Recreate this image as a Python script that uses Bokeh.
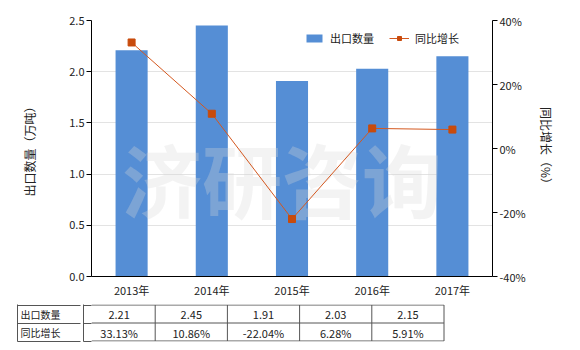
from bokeh.plotting import figure
from bokeh.models import (Range1d, LinearAxis, FixedTicker, PrintfTickFormatter, Legend,
                          LegendItem)
from bokeh.layouts import column
from bokeh.core.properties import value
from bokeh.embed import file_html
from bokeh.resources import INLINE

years = ["2013年", "2014年", "2015年", "2016年", "2017年"]
export_qty = [2.21, 2.45, 1.91, 2.03, 2.15]
yoy_growth = [33.13, 10.86, -22.04, 6.28, 5.91]
qty_labels = ["2.21", "2.45", "1.91", "2.03", "2.15"]
growth_labels = ["33.13%", "10.86%", "-22.04%", "6.28%", "5.91%"]
row_names = ["出口数量", "同比增长"]
left_ticks = [0.0, 0.5, 1.0, 1.5, 2.0, 2.5]
right_ticks = [-40, -20, 0, 20, 40]

FONT = "Noto Sans CJK SC"
BAR = "#558ed5"
LINE = "#d4581f"
MARK = "#c84b0c"
TXT = "#222222"
GRIDC = "#555555"

FL, FR, FT = 91, 492, 20      # chart frame edges (canvas px)
TOP_H = 300                   # chart figure height
FB = 278

p = figure(width=580, height=TOP_H, x_range=years, y_range=Range1d(0, 2.5),
           output_backend="svg", toolbar_location=None,
           min_border_left=FL, min_border_right=580 - FR, min_border_top=FT,
           min_border_bottom=TOP_H - FB)
p.outline_line_color = None
p.extra_y_ranges = {"pct": Range1d(-40, 40)}

bars = p.vbar(x=years, top=export_qty, width=0.4, color=BAR, line_color=None)

# watermark
p.text(x=[2.375], y=[0.97], text=["济研咨询"], text_font=value(FONT), text_font_style="bold",
       text_font_size="80px", text_color="#d8d8d8", text_alpha=0.3,
       text_align="center", text_baseline="middle")

ln = p.line(x=years, y=yoy_growth, y_range_name="pct", line_color=LINE, line_width=1)
sc = p.scatter(x=years, y=yoy_growth, y_range_name="pct", marker="square", size=7,
               fill_color=MARK, line_color=MARK)

p.xgrid.grid_line_color = None
p.ygrid.grid_line_color = "#e3e3e3"
p.ygrid.ticker = FixedTicker(ticks=left_ticks)

xa = p.xaxis[0]
xa.major_tick_line_color = None
xa.major_tick_out = 0
xa.major_tick_in = 0
xa.minor_tick_line_color = None
xa.axis_line_color = "black"
xa.major_label_text_font = FONT
xa.major_label_text_font_size = "11px"
xa.major_label_text_color = TXT
xa.major_label_standoff = 5

ya = p.yaxis[0]
ya.ticker = FixedTicker(ticks=left_ticks)
ya.formatter = PrintfTickFormatter(format="%.1f")
ya.major_tick_out = 5
ya.major_tick_in = 0
ya.minor_tick_line_color = None
ya.axis_line_color = "black"
ya.major_label_text_font = FONT
ya.major_label_text_font_size = "11px"
ya.major_label_text_color = TXT
ya.major_label_standoff = 2
ya.axis_label = "出口数量（万吨）"
ya.axis_label_text_font = FONT
ya.axis_label_text_font_size = "12px"
ya.axis_label_text_font_style = "normal"
ya.axis_label_text_color = TXT
ya.axis_label_standoff = 28

ra = LinearAxis(y_range_name="pct", ticker=FixedTicker(ticks=right_ticks),
                formatter=PrintfTickFormatter(format="%d%%"))
ra.major_tick_out = 5
ra.major_tick_in = 0
ra.minor_tick_line_color = None
ra.axis_line_color = "black"
ra.major_label_text_font = FONT
ra.major_label_text_font_size = "11px"
ra.major_label_text_color = TXT
ra.major_label_standoff = 2
ra.axis_label = "同比增长（%）"
ra.axis_label_text_font = FONT
ra.axis_label_text_font_size = "12px"
ra.axis_label_text_font_style = "normal"
ra.axis_label_text_color = TXT
ra.axis_label_standoff = 9
p.add_layout(ra, "right")

legend = Legend(items=[LegendItem(label="出口数量", renderers=[bars]),
                       LegendItem(label="同比增长", renderers=[ln, sc])],
                orientation="horizontal", location=(213, 230),
                border_line_color=None, background_fill_alpha=0,
                label_text_font=FONT, label_text_font_size="11px", label_text_color=TXT,
                glyph_width=20, glyph_height=10, padding=0, margin=0, spacing=15,
                label_standoff=6)
p.add_layout(legend, "center")

# ---------------- data table figure (rows are 0..2 in y, canvas px in x)
T_TOP = 4          # table top offset inside the table figure
ROW_H = 18
t = figure(width=580, height=50, x_range=Range1d(FL, FR),
           y_range=Range1d(2 + 0.5 / ROW_H, -0.5 / ROW_H),
           x_axis_location=None, y_axis_location=None,
           output_backend="svg", toolbar_location=None,
           min_border_left=FL, min_border_right=580 - FR,
           min_border_top=T_TOP, min_border_bottom=50 - T_TOP - 2 * ROW_H - 1)
t.outline_line_color = None
t.xgrid.visible = False
t.ygrid.visible = False

row_edges = [0, 1, 2]
row_mid = [0.5, 1.5]
NAME_STANDOFF = 23
NAME_COL = 40 + NAME_STANDOFF   # width of the row-name axis panel

# spacer axis next to the frame: carries the horizontal rules out to the first column edge
a0 = LinearAxis(ticker=FixedTicker(ticks=[], minor_ticks=row_edges))
a0.axis_line_color = None
a0.major_tick_out = 8
a0.major_tick_in = 0
a0.major_tick_line_color = None
a0.minor_tick_out = 8
a0.minor_tick_in = 0
a0.minor_tick_line_color = GRIDC
a0.major_label_standoff = 0
t.add_layout(a0, "left")

# first column: row names and its right border
a1 = LinearAxis(ticker=FixedTicker(ticks=row_mid, minor_ticks=[]))
a1.major_label_overrides = {0.5: row_names[0], 1.5: row_names[1]}
a1.axis_line_color = GRIDC
a1.major_tick_out = 0
a1.major_tick_in = 0
a1.major_tick_line_color = None
a1.minor_tick_out = 0
a1.minor_tick_in = 0
a1.minor_tick_line_color = None
a1.major_label_standoff = NAME_STANDOFF
a1.major_label_text_font = FONT
a1.major_label_text_font_size = "10px"
a1.major_label_text_color = TXT
t.add_layout(a1, "left")

# table's left border, with inward ticks forming the rules of the first column
a2 = LinearAxis(ticker=FixedTicker(ticks=[], minor_ticks=row_edges))
a2.axis_line_color = GRIDC
a2.major_tick_out = 0
a2.major_tick_in = 0
a2.major_tick_line_color = None
a2.minor_tick_out = 0
a2.minor_tick_in = NAME_COL
a2.minor_tick_line_color = GRIDC
a2.major_label_standoff = 0
t.add_layout(a2, "left")

first_edge = 82.5
col_w = 72.2
n = len(years)
col_edges = [first_edge + col_w * (i + 1) for i in range(n)]
right_edge = col_edges[-1]
t.segment(x0=col_edges, y0=[0] * n, x1=col_edges, y1=[2] * n, line_color=GRIDC, line_width=1)
t.segment(x0=[FL] * 3, y0=row_edges, x1=[right_edge] * 3, y1=row_edges,
          line_color=GRIDC, line_width=1)

cx = [first_edge + col_w * (i + 0.5) for i in range(n)]
t.text(x=cx, y=[row_mid[0] + 0.05] * n, text=qty_labels, text_font=value(FONT),
       text_font_size="11px", text_color=TXT, text_align="center", text_baseline="middle")
t.text(x=cx, y=[row_mid[1] + 0.05] * n, text=growth_labels, text_font=value(FONT),
       text_font_size="11px", text_color=TXT, text_align="center", text_baseline="middle")

layout = column(p, t, spacing=0)
open("out.html", "w").write(file_html(layout, INLINE))
